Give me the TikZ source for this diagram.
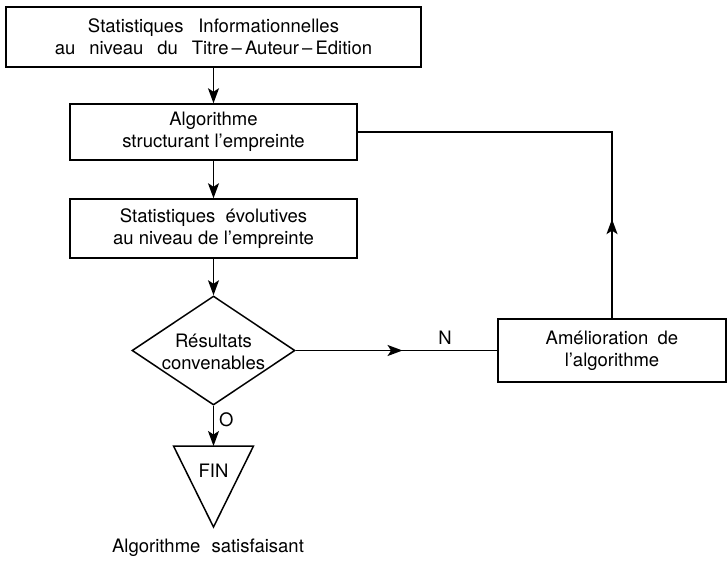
\documentclass[tikz,border=0pt]{standalone}
\usepackage{fontspec}
\setmainfont{TeX Gyre Heros}
\usetikzlibrary{arrows.meta,shapes.geometric,decorations.markings}
\newcommand\wsp{\hspace{0.75em}}
\begin{document}
\begin{tikzpicture}[x=1pt,y=-1pt,
  every node/.style={font=\fontsize{18.5}{22}\selectfont},
  box/.style={draw,line width=1.5pt,align=center,inner sep=0pt},
  lab/.style={inner sep=0pt,align=center},
  tip/.style={-{Stealth[length=15pt,width=11pt,inset=3.5pt]}},
  conn/.style={line width=1.5pt,tip},
  plain/.style={line width=1.5pt},
  midarrow/.style={decoration={markings,mark=at position #1 with {\arrow{Stealth[length=15pt,width=11pt,inset=3.5pt]}}},postaction={decorate}}
]
\useasboundingbox (0,0) rectangle (728,560);

\node[box,minimum width=415pt,minimum height=60pt] (b1) at (213.5,37)
  {Statistiques\hspace{0.8em}Informationnelles\\au\wsp niveau\wsp du\wsp Titre\,--\,Auteur\,--\,Edition};
\node[box,minimum width=287pt,minimum height=56pt] (b2) at (213.5,132)
  {Algorithme\\structurant l'empreinte};
\node[box,minimum width=287pt,minimum height=59pt] (b3) at (213.5,228.5)
  {Statistiques\hspace{0.55em}évolutives\\au niveau de l'empreinte};
\node[diamond,draw,line width=1.5pt,minimum width=163pt,minimum height=109pt,inner sep=0pt,aspect=1.5] (dia) at (213.5,350.5) {};
\node[lab] (diatext) at (213.5,352) {Résultats\\convenables};
\node[box,minimum width=228pt,minimum height=63pt] (b4) at (612,350.5)
  {Amélioration\hspace{0.5em}de\\l'algorithme};

% FIN triangle
\coordinate (fintop) at (213.5,446);
\draw[plain,line join=miter] (173.5,446) -- (253.5,446) -- (213.5,527) -- cycle;
\node[lab] (fin) at (213.5,471) {FIN};
\node[lab] (sat) at (208,548) {Algorithme\hspace{0.6em}satisfaisant};

% connectors
\draw[conn] (b1) -- (b2);
\draw[conn] (b2) -- (b3);
\draw[conn] (b3) -- (dia.north);
\draw[conn] (dia.south) -- (fintop);
\node[lab,anchor=west] (olab) at (219,420) {O};
\draw[plain,midarrow=0.53] (dia.east) -- (dia.east -| b4.west);
\node[lab] (nlab) at (445,338) {N};
\draw[plain,midarrow=0.225] (b4.north) |- (b2.east);
\end{tikzpicture}
\end{document}
